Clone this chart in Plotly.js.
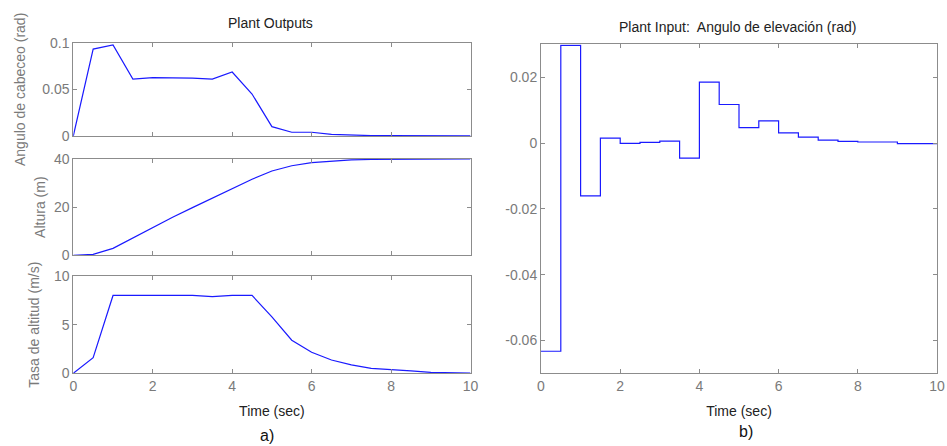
<!DOCTYPE html>
<html>
<head>
<meta charset="utf-8">
<script src="https://cdn.plot.ly/plotly-3.0.1.min.js"></script>
<style>html,body{margin:0;padding:0;background:#fff;}#chart{width:947px;height:446px;}</style>
</head>
<body>
<div id="chart"></div>
<script>
// ---- data ----
const timeOut = [0,0.5,1,1.5,2,2.5,3,3.5,4,4.5,5,5.5,6,6.5,7,7.5,8,8.5,9,9.5,10];
const pitchAngle = [0,0.0932,0.0975,0.061,0.0625,0.0625,0.062,0.061,0.0686,0.045,0.010,0.004,0.004,0.0018,0.0007,0.0004,0.0003,0.0002,0.0001,0.0001,0.0001];
const altitude = [0,0.4,2.9,7.3,11.6,15.8,19.8,23.8,27.8,31.6,35.0,37.2,38.5,39.2,39.6,39.8,39.9,39.95,40,40,40];
const altRate = [0,1.6,8.0,8.0,8.0,8.0,8.0,7.88,8.0,8.0,5.8,3.4,2.16,1.37,0.86,0.51,0.41,0.24,0.1,0.07,0.03];
const timeIn = [0,0.5,1,1.5,2,2.5,3,3.5,4,4.5,5,5.5,6,6.5,7,7.5,8,8.5,9,9.5,10];
const elevAngle = [-0.0633,0.0297,-0.0161,0.0015,-0.0001,0.0002,0.0006,-0.0046,0.0185,0.0117,0.0047,0.0067,0.0031,0.0018,0.0009,0.0005,0.0003,0.0003,-0.0002,-0.0002,-0.0002];
const xTicks = [0,2,4,6,8,10];
const xTickText = ["0","2","4","6","8","10"];
const rightYTicks = [0.02,0,-0.02,-0.04,-0.06];
const rightYTickText = ["0.02","0","-0.02","-0.04","-0.06"];
const titles = {left:"Plant Outputs", right:"Plant Input:  Angulo de elevación (rad)"};

const W = 947, H = 446;
const fx = p => p / W;
const fy = p => 1 - p / H;

const lineStyle = {color:'#1a1aff', width:1.2};
const traces = [
  {x:timeOut, y:pitchAngle, xaxis:'x', yaxis:'y', mode:'lines', line:lineStyle},
  {x:timeOut, y:altitude, xaxis:'x2', yaxis:'y2', mode:'lines', line:lineStyle},
  {x:timeOut, y:altRate, xaxis:'x3', yaxis:'y3', mode:'lines', line:lineStyle},
  {x:timeIn, y:elevAngle, xaxis:'x4', yaxis:'y4', mode:'lines', line:Object.assign({shape:'hv'}, lineStyle)}
];

const font = {family:'Liberation Sans, Arial, sans-serif'};
const tickFont = {family:font.family, size:14, color:'#7a7a7a'};
const titleFont = {family:font.family, size:14, color:'#7a7a7a'};
const darkFont = {family:font.family, size:14, color:'#222'};
const base = {
  showline:true, mirror:'ticks', linecolor:'#8c8c8c', linewidth:1,
  ticks:'inside', ticklen:4, tickcolor:'#8c8c8c',
  showgrid:false, zeroline:false, tickfont:tickFont, automargin:false, fixedrange:true
};
const xa = (dom, anchor, showLabels) => Object.assign({}, base, {
  domain:dom, anchor:anchor, range:[0,10], tickmode:'array', tickvals:xTicks, ticktext:xTickText,
  showticklabels:showLabels
});
const ya = (dom, anchor, extra) => Object.assign({}, base, {domain:dom, anchor:anchor}, extra);

const leftX = [fx(73.3), fx(470.5)];
const rightX = [fx(541), fx(937)];

const layout = {
  width:W, height:H, margin:{l:0,r:0,t:0,b:0}, showlegend:false,
  paper_bgcolor:'#ffffff', plot_bgcolor:'#ffffff', font:font,
  xaxis: xa(leftX,'y',false),
  yaxis: ya([fy(136), fy(42.7)],'x',{range:[0,0.1], tickvals:[0,0.05,0.1], ticktext:["0","0.05","0.1"], tickmode:'array',
    title:{text:'Angulo de cabeceo (rad)', font:titleFont, standoff:13}}),
  xaxis2: xa(leftX,'y2',false),
  yaxis2: ya([fy(255.3), fy(159)],'x2',{range:[0,40], tickvals:[0,20,40], ticktext:["0","20","40"], tickmode:'array',
    title:{text:'Altura (m)', font:titleFont, standoff:5}}),
  xaxis3: Object.assign(xa(leftX,'y3',true), {title:{text:'Time (sec)', font:darkFont, standoff:13}}),
  yaxis3: ya([fy(373.3), fy(276)],'x3',{range:[0,10], tickvals:[0,5,10], ticktext:["0","5","10"], tickmode:'array',
    title:{text:'Tasa de altitud (m/s)', font:titleFont, standoff:11}}),
  xaxis4: Object.assign(xa(rightX,'y4',true), {title:{text:'Time (sec)', font:darkFont, standoff:13}}),
  yaxis4: ya([fy(373.3), fy(44.3)],'x4',{range:[-0.07,0.03], tickmode:'array', tickvals:rightYTicks, ticktext:rightYTickText}),
  annotations:[
    {text:titles.left, xref:'paper', yref:'paper', x:fx(270), y:fy(23), xanchor:'center', yanchor:'middle', showarrow:false, font:darkFont},
    {text:titles.right, xref:'paper', yref:'paper', x:fx(737), y:fy(27), xanchor:'center', yanchor:'middle', showarrow:false, font:darkFont},
    {text:'a)', xref:'paper', yref:'paper', x:fx(267), y:fy(435), xanchor:'center', yanchor:'middle', showarrow:false, borderpad:0, font:{family:font.family,size:16,color:'#111'}},
    {text:'b)', xref:'paper', yref:'paper', x:fx(746), y:fy(431), xanchor:'center', yanchor:'middle', showarrow:false, borderpad:0, font:{family:font.family,size:16,color:'#111'}}
  ]
};

Plotly.newPlot('chart', traces, layout, {displayModeBar:false, staticPlot:true});
</script>
</body>
</html>
